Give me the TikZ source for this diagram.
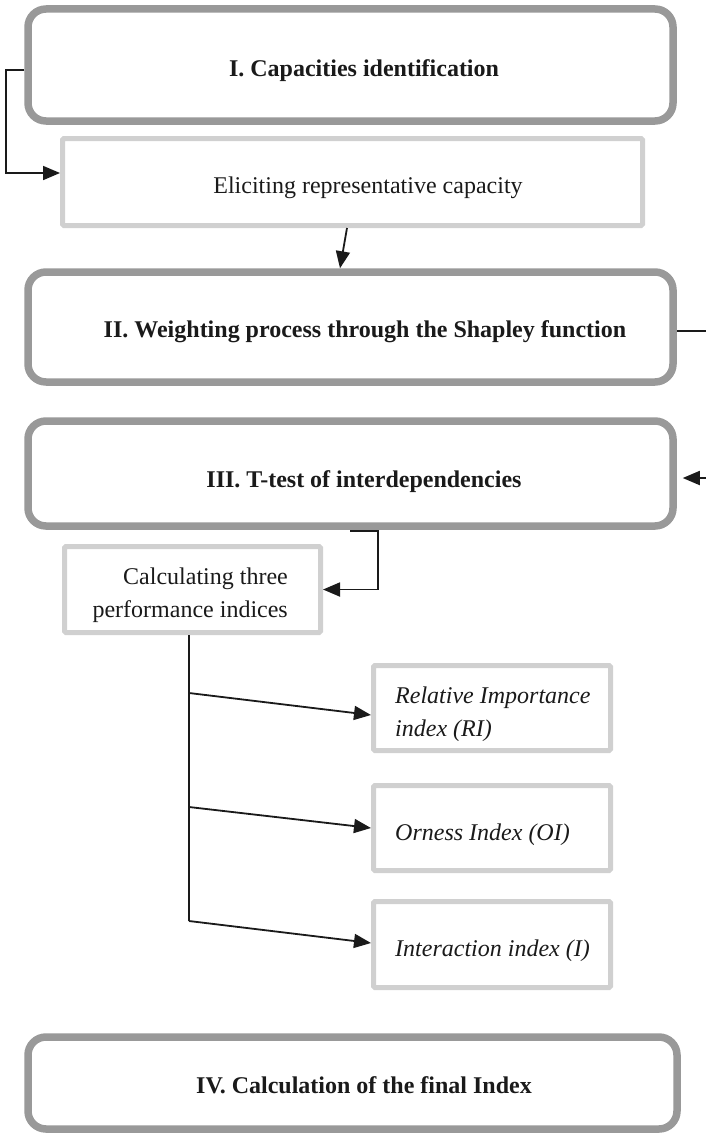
\documentclass[tikz,border=0pt]{standalone}
\usepackage{fontspec}
\setmainfont{Liberation Serif}
\usetikzlibrary{arrows.meta}
\definecolor{boxdark}{HTML}{999999}
\definecolor{boxlight}{HTML}{D0D0D0}
\definecolor{ink}{HTML}{1A1A1A}
\tikzset{
 mainbox/.style={draw=boxdark, line width=7.5pt, rounded corners=18pt, inner sep=0pt},
 subbox/.style={draw=boxlight, line width=5pt, rounded corners=1.5pt, inner sep=0pt},
 txt/.style={font=\fontsize{24}{33}\selectfont, inner sep=0pt, text=ink},
 btxt/.style={txt, font=\fontsize{24}{33}\selectfont\bfseries},
 itxt/.style={txt, font=\fontsize{24}{33}\selectfont\itshape},
 conn/.style={draw=ink, line width=1.8pt},
 arr/.style={conn, -{Triangle[length=17pt,width=14pt]}},
}
\begin{document}
\begin{tikzpicture}[x=1pt,y=-1pt]
\clip (0,0) rectangle (706,1140);
\fill[white] (0,0) rectangle (706,1140);
% boxes
\node[mainbox, minimum width=645pt, minimum height=112pt] (b1) at (350.5,65) {};
\node[subbox, minimum width=580pt, minimum height=87pt] (el) at (352.5,182) {};
\node[mainbox, minimum width=645pt, minimum height=110pt] (b2) at (350.5,327) {};
\node[mainbox, minimum width=645pt, minimum height=105pt] (b3) at (350.5,473.5) {};
\node[subbox, minimum width=256pt, minimum height=86pt] (calc) at (192.5,589.5) {};
\node[subbox, minimum width=237pt, minimum height=85pt] (ri) at (492,708) {};
\node[subbox, minimum width=237pt, minimum height=85pt] (oi) at (492,828) {};
\node[subbox, minimum width=237pt, minimum height=86pt] (ii) at (492,944.5) {};
\node[mainbox, minimum width=649pt, minimum height=92pt] (b4) at (352.5,1083) {};
% texts
\node[btxt, anchor=base] (t1) at (364,76) {I. Capacities identification};
\node[txt, anchor=base] (t2) at (368,193) {Eliciting representative capacity};
\node[btxt, anchor=base] (t3) at (365,337) {II. Weighting process through the Shapley function};
\node[btxt, anchor=base] (t4) at (364,487) {III. T-test of interdependencies};
\node[txt, anchor=base east, align=right] (t5) at (288,617) {Calculating three\\performance indices};
\node[itxt, anchor=base west, align=left] (t6) at (395,736) {Relative Importance\\index (RI)};
\node[itxt, anchor=base west] (t7) at (395,840) {Orness Index (OI)};
\node[itxt, anchor=base west] (t8) at (395,956) {Interaction index (I)};
\node[btxt, anchor=base] (t9) at (364,1093) {IV. Calculation of the final Index};
% connectors
\coordinate (j1) at (189,693);
\coordinate (j2) at (189,807);
\coordinate (j3) at (189,921);
\draw[arr] ([yshift=-5pt]b1.west) -- ++(-18,0) |- ([yshift=9pt]el.west);
\draw[arr] ([xshift=-5.5pt]el.south) -- ([xshift=-10.5pt]b2.north);
\draw[arr, shorten >=6pt] ([yshift=-4pt]b2.east) -- ++(40,0) |- ([yshift=-4.5pt]b3.east);
\draw[arr] ([xshift=-0.5pt,yshift=-1pt]b3.south) -- ++(28,0) |- (calc.east);
\draw[conn] ([xshift=-3.5pt]calc.south) -- (j3);
\draw[arr] (j1) -- ([yshift=-7pt]ri.west);
\draw[arr] (j2) -- (oi.west);
\draw[arr] (j3) -- ([yshift=1.5pt]ii.west);
\end{tikzpicture}
\end{document}
